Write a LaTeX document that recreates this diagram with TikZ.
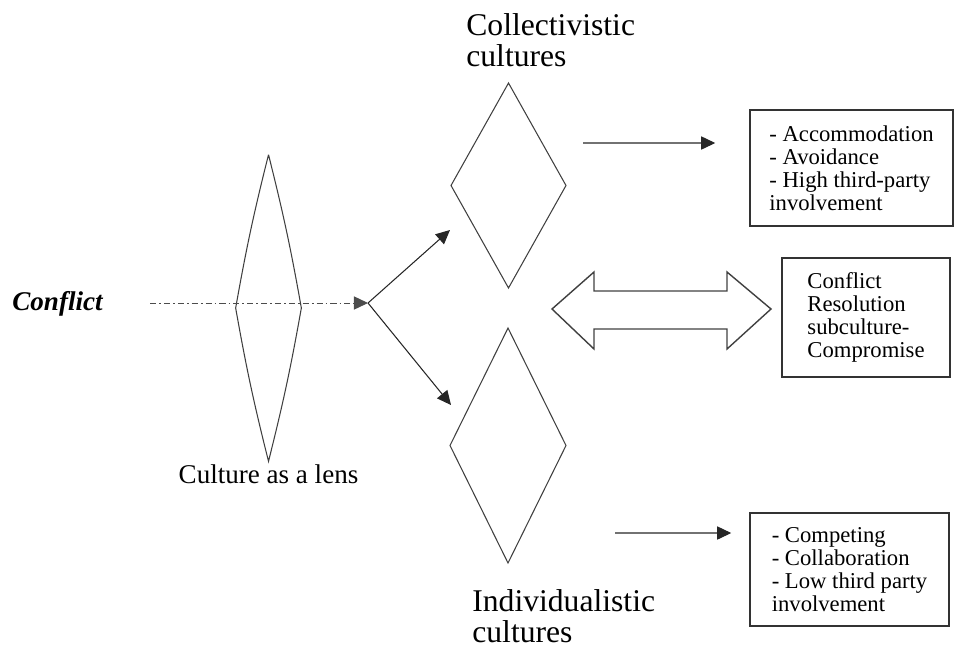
\documentclass[tikz,border=0pt]{standalone}
\usepackage{fontspec}
\setmainfont{Liberation Serif}
\usetikzlibrary{shapes.geometric,arrows.meta,positioning}

\tikzset{
  culture/.style={shape=diamond, draw=black!75, line width=0.6pt, inner sep=0pt, outer sep=0pt},
  stylebox/.style={draw=black!80, line width=0.9pt, align=left, inner sep=0pt,
        font=\fontsize{12.9pt}{13.1pt}\selectfont},
  heading/.style={align=left, inner sep=0pt, anchor=north west,
        font=\fontsize{18pt}{17.6pt}\selectfont},
  arr/.style={-{Triangle[length=8pt,width=7.5pt]}, line width=0.6pt, black!85}
}

\begin{document}
\begin{tikzpicture}[x=0.02cm, y=-0.02cm]
\useasboundingbox (0,0) rectangle (955,649);

% lens and incoming conflict
\node[font=\fontsize{15.4pt}{16pt}\selectfont\bfseries\itshape, anchor=base, inner sep=0pt]
        (conflict) at (57.5,310) {Conflict};
\node[shape=diamond, minimum width=1.3cm, minimum height=6.12cm, inner sep=0pt] (lens) at (268.5,308) {};
\draw[black!75, line width=0.6pt]
        (lens.north) to[bend right=2] (lens.west) to[bend right=2] (lens.south)
        to[bend right=2] (lens.east) to[bend right=2] (lens.north);
\node[font=\fontsize{15.4pt}{16pt}\selectfont, anchor=base, inner sep=0pt]
        (lensLabel) at (268.5,483) {Culture as a lens};

\coordinate (lineStart) at (150,303);
\coordinate (focus) at (368,303);
\draw[arr, black!70, line width=0.5pt, dash pattern=on 3.5pt off 1.7pt on 1pt off 1.7pt]
        (lineStart) -- (focus);

% the two cultures
\node[culture, minimum width=2.3cm, minimum height=4.1cm] (collect) at (508.5,185.5) {};
\node[culture, minimum width=2.32cm, minimum height=4.7cm] (indiv) at (508,445.5) {};
\node[heading] (collectLabel) at (466,13) {Collectivistic\\cultures};
\node[heading] (indivLabel) at (472,589) {Individualistic\\cultures};

\coordinate (upTip) at (450,230);
\coordinate (lowTip) at (451,405);
\draw[arr] (focus) -- (upTip);
\draw[arr] (focus) -- (lowTip);

% outcome boxes
\node[stylebox, minimum width=4.06cm, minimum height=2.32cm] (boxA) at (851.5,168)
        {- Accommodation\\- Avoidance\\- High third-party\\involvement};
\node[stylebox, minimum width=3.36cm, minimum height=2.38cm] (boxB) at (866,317.5)
        {Conflict\\Resolution\\subculture-\\Compromise};
\node[stylebox, minimum width=3.98cm, minimum height=2.26cm] (boxC) at (849.5,569.5)
        {- Competing\\- Collaboration\\- Low third party\\involvement};

\coordinate (upStart) at (583,143);
\coordinate (lowStart) at (615,533);
\draw[arr] (upStart) -- ([xshift=-0.68cm,yshift=0.5cm]boxA.west);
\draw[arr] (lowStart) -- ([xshift=-0.36cm,yshift=0.73cm]boxC.west);

% double block arrow
\draw[black!75, line width=0.8pt]
        (552,309) -- (594,272) -- (594,291) -- (727,291) -- (727,272) -- (771,309)
        -- (727,349) -- (727,329) -- (594,329) -- (594,349) -- cycle;
\end{tikzpicture}
\end{document}
